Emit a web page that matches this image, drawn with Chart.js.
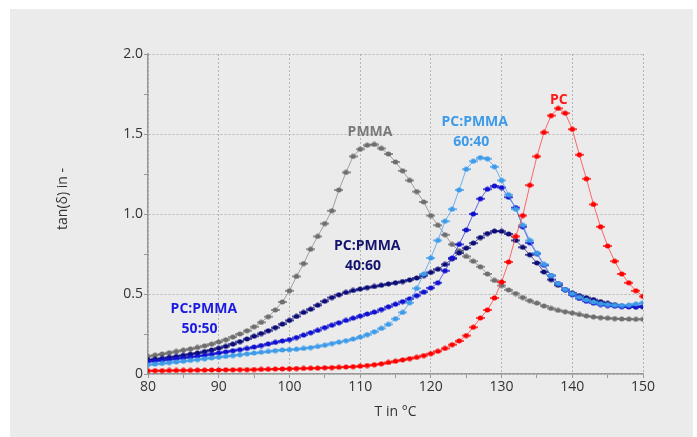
<!DOCTYPE html>
<html>
<head>
<meta charset="utf-8">
<script src="https://cdn.jsdelivr.net/npm/chart.js@4.4.0/dist/chart.umd.min.js"></script>
<style>
  html, body { margin: 0; padding: 0; background: #fff; }
  #wrap { width: 697px; height: 437px; }
</style>
</head>
<body>
<div id="wrap"><canvas id="chart" width="697" height="437"></canvas></div>
<script>
// Temperatur in °C
const temps = [80, 81, 82, 83, 84, 85, 86, 87, 88, 89,
  90, 91, 92, 93, 94, 95, 96, 97, 98, 99,
  100, 101, 102, 103, 104, 105, 106, 107, 108, 109,
  110, 111, 112, 113, 114, 115, 116, 117, 118, 119,
  120, 121, 122, 123, 124, 125, 126, 127, 128, 129,
  130, 131, 132, 133, 134, 135, 136, 137, 138, 139,
  140, 141, 142, 143, 144, 145, 146, 147, 148, 149,
  150];

// tan(delta) pro Probe
const pc = [0.020, 0.021, 0.021, 0.022, 0.022, 0.023, 0.023, 0.024, 0.024, 0.025,
  0.025, 0.026, 0.026, 0.027, 0.027, 0.028, 0.029, 0.030, 0.031, 0.032,
  0.033, 0.034, 0.035, 0.036, 0.037, 0.039, 0.040, 0.042, 0.044, 0.046,
  0.049, 0.053, 0.058, 0.064, 0.072, 0.080, 0.088, 0.096, 0.104, 0.115,
  0.127, 0.142, 0.160, 0.183, 0.207, 0.240, 0.292, 0.350, 0.400, 0.475,
  0.575, 0.700, 0.860, 0.990, 1.180, 1.360, 1.510, 1.615, 1.660, 1.630,
  1.530, 1.370, 1.220, 1.060, 0.920, 0.800, 0.705, 0.625, 0.570, 0.520,
  0.485];

const pmma = [0.110, 0.118, 0.125, 0.133, 0.141, 0.149, 0.157, 0.166, 0.176, 0.187,
  0.200, 0.214, 0.231, 0.250, 0.270, 0.295, 0.323, 0.358, 0.400, 0.450,
  0.520, 0.610, 0.690, 0.780, 0.860, 0.940, 1.020, 1.150, 1.260, 1.360,
  1.405, 1.430, 1.435, 1.410, 1.375, 1.325, 1.270, 1.210, 1.140, 1.075,
  0.990, 0.930, 0.870, 0.810, 0.770, 0.735, 0.705, 0.670, 0.625, 0.585,
  0.553, 0.525, 0.503, 0.478, 0.458, 0.443, 0.425, 0.410, 0.398, 0.389,
  0.381, 0.372, 0.363, 0.357, 0.352, 0.349, 0.346, 0.344, 0.343, 0.342,
  0.342];

const pc60 = [0.058, 0.062, 0.066, 0.071, 0.075, 0.080, 0.085, 0.090, 0.095, 0.100,
  0.105, 0.110, 0.115, 0.120, 0.126, 0.131, 0.136, 0.141, 0.146, 0.150,
  0.152, 0.155, 0.160, 0.165, 0.172, 0.180, 0.190, 0.199, 0.208, 0.219,
  0.231, 0.246, 0.264, 0.285, 0.310, 0.345, 0.385, 0.445, 0.535, 0.625,
  0.725, 0.835, 0.955, 1.030, 1.150, 1.280, 1.330, 1.352, 1.345, 1.295,
  1.210, 1.120, 1.030, 0.930, 0.835, 0.755, 0.685, 0.615, 0.565, 0.528,
  0.502, 0.480, 0.463, 0.450, 0.440, 0.434, 0.430, 0.428, 0.430, 0.438,
  0.445];

const pc50 = [0.078, 0.082, 0.086, 0.091, 0.096, 0.101, 0.106, 0.111, 0.117, 0.124,
  0.131, 0.138, 0.145, 0.152, 0.160, 0.169, 0.178, 0.188, 0.198, 0.207,
  0.215, 0.228, 0.243, 0.258, 0.273, 0.290, 0.305, 0.320, 0.335, 0.349,
  0.362, 0.375, 0.387, 0.403, 0.420, 0.436, 0.452, 0.470, 0.490, 0.512,
  0.538, 0.570, 0.645, 0.725, 0.810, 0.900, 1.000, 1.095, 1.155, 1.175,
  1.165, 1.105, 1.040, 0.920, 0.820, 0.752, 0.680, 0.615, 0.565, 0.525,
  0.495, 0.472, 0.455, 0.443, 0.434, 0.428, 0.424, 0.421, 0.420, 0.420,
  0.422];

const pc40 = [0.088, 0.093, 0.098, 0.104, 0.110, 0.117, 0.124, 0.131, 0.140, 0.150,
  0.161, 0.173, 0.187, 0.202, 0.219, 0.236, 0.253, 0.270, 0.290, 0.312,
  0.335, 0.360, 0.385, 0.405, 0.430, 0.455, 0.478, 0.495, 0.510, 0.522,
  0.531, 0.540, 0.547, 0.555, 0.563, 0.570, 0.578, 0.588, 0.600, 0.615,
  0.635, 0.655, 0.685, 0.720, 0.757, 0.787, 0.818, 0.853, 0.878, 0.893,
  0.892, 0.875, 0.835, 0.792, 0.745, 0.694, 0.638, 0.590, 0.555, 0.528,
  0.507, 0.490, 0.477, 0.465, 0.452, 0.442, 0.433, 0.425, 0.422, 0.421,
  0.421];

const yTicks = [0, 0.5, 1.0, 1.5, 2.0];

// Beschriftungen im Diagramm (Datenkoordinaten)
const labels = [
  { text: 'PMMA', x: 111.4, y: 1.51, color: '#7a7a7a' },
  { text: 'PC', x: 138.1, y: 1.71, color: '#ff1a1a' },
  { text: 'PC:PMMA', x: 126.2, y: 1.578, color: '#3d9be9' },
  { text: '60:40', x: 125.7, y: 1.45, color: '#3d9be9' },
  { text: 'PC:PMMA', x: 111.0, y: 0.797, color: '#14146e' },
  { text: '40:60', x: 110.4, y: 0.672, color: '#14146e' },
  { text: 'PC:PMMA', x: 87.9, y: 0.404, color: '#1c1ce0' },
  { text: '50:50', x: 87.3, y: 0.279, color: '#1c1ce0' }
];

const FONT = '"Open Sans", "Noto Sans", sans-serif';

function marker(color) {
  const c = document.createElement('canvas');
  c.width = 9;
  c.height = 6;
  const g = c.getContext('2d');
  g.strokeStyle = color;
  g.lineWidth = 1.4;
  g.beginPath();
  g.moveTo(0, 3);
  g.lineTo(9, 3);
  g.stroke();
  g.fillStyle = color;
  g.beginPath();
  g.ellipse(4.5, 3, 2.7, 2.5, 0, 0, Math.PI * 2);
  g.fill();
  return c;
}

function serie(values, color, lineColor) {
  return {
    data: temps.map((t, i) => ({ x: t, y: values[i] })),
    borderColor: lineColor,
    borderWidth: 1,
    pointStyle: marker(color),
    pointRadius: 3,
    tension: 0
  };
}

const hintergrund = {
  id: 'hintergrund',
  beforeDraw(chart) {
    const ctx = chart.ctx;
    ctx.save();
    ctx.fillStyle = '#ffffff';
    ctx.fillRect(0, 0, chart.width, chart.height);
    ctx.fillStyle = '#ebebeb';
    ctx.fillRect(10, 9, 683, 428);
    ctx.restore();
  }
};

const beschriftung = {
  id: 'beschriftung',
  afterDatasetsDraw(chart) {
    const ctx = chart.ctx;
    const sx = chart.scales.x, sy = chart.scales.y;
    ctx.save();
    ctx.font = 'bold 14px ' + FONT;
    ctx.textAlign = 'center';
    ctx.textBaseline = 'middle';
    labels.forEach(l => {
      ctx.fillStyle = l.color;
      ctx.fillText(l.text, sx.getPixelForValue(l.x), sy.getPixelForValue(l.y));
    });
    // y-Achsentitel
    ctx.translate(63, 199);
    ctx.rotate(-Math.PI / 2);
    ctx.font = '14px ' + FONT;
    ctx.fillStyle = '#333';
    ctx.fillText('tan(\u03b4) in -', 0, 0);
    ctx.restore();
  }
};

new Chart(document.getElementById('chart'), {
  type: 'line',
  data: {
    datasets: [
      serie(pc, '#ff0000', 'rgba(255,70,70,0.8)'),
      serie(pc60, '#3d9be9', 'rgba(80,160,240,0.8)'),
      serie(pc50, '#1010d0', 'rgba(40,40,220,0.7)'),
      serie(pc40, '#0c0c78', 'rgba(20,20,120,0.7)'),
      serie(pmma, '#6e6e6e', 'rgba(140,140,140,0.8)')
    ]
  },
  options: {
    responsive: false,
    animation: false,
    layout: { padding: { top: 54, right: 54, left: 0, bottom: 0 } },
    plugins: { legend: { display: false }, tooltip: { enabled: false } },
    scales: {
      x: {
        type: 'linear',
        min: 80,
        max: 150,
        afterFit: s => { s.height = 63; },
        ticks: {
          stepSize: 5,
          autoSkip: false,
          maxRotation: 0,
          padding: 1,
          color: '#333',
          font: { size: 14, family: FONT },
          callback: v => (v % 10 === 0 ? String(v) : '')
        },
        grid: {
          color: c => (c.tick && c.tick.value % 10 === 0 ? '#b4b4b4' : 'transparent'),
          tickColor: '#999',
          tickLength: 4,
          tickBorderDash: []
        },
        border: { color: '#999', width: 1.5, dash: [2, 2] },
        title: {
          display: true,
          text: 'T in °C',
          color: '#333',
          font: { size: 14, family: FONT },
          padding: { top: 0, bottom: 17 }
        }
      },
      y: {
        min: 0,
        max: 2,
        afterFit: s => { s.width = 148; },
        ticks: {
          stepSize: 0.25,
          autoSkip: false,
          padding: 1,
          color: '#333',
          font: { size: 14, family: FONT },
          callback: v => {
            if (!yTicks.includes(v)) return '';
            return v === 0 ? '0' : v.toFixed(1);
          }
        },
        grid: {
          color: c => (c.tick && yTicks.includes(c.tick.value) ? '#b4b4b4' : 'transparent'),
          tickColor: '#999',
          tickLength: 4,
          tickBorderDash: []
        },
        border: { color: '#999', width: 1.5, dash: [2, 2] }
      }
    }
  },
  plugins: [hintergrund, beschriftung]
});
</script>
</body>
</html>
